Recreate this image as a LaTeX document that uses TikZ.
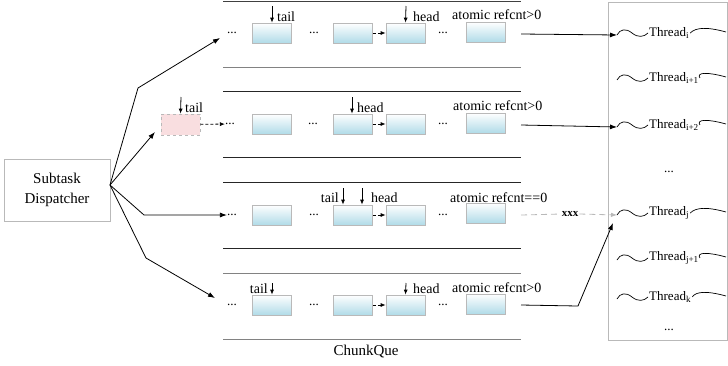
\documentclass[tikz,border=0pt]{standalone}
\usepackage{fontspec}
\setmainfont{Liberation Serif}
\usetikzlibrary{arrows.meta}
\definecolor{qblue}{RGB}{176,219,232}
\definecolor{qpink}{RGB}{249,222,224}
\definecolor{bord}{RGB}{185,185,185}
\definecolor{lgray}{RGB}{130,130,130}
\begin{document}
\begin{tikzpicture}[x=1pt,y=-1pt,
  qbox/.style={rectangle,draw=bord,line width=0.7pt,minimum width=39pt,minimum height=20pt,inner sep=0pt,top color=white,bottom color=qblue},
  pbox/.style={rectangle,draw=bord,dashed,line width=0.7pt,fill=qpink,minimum width=39pt,minimum height=21pt,inner sep=0pt},
  dotsn/.style={font=\fontsize{13}{15}\selectfont,inner sep=0pt},
  lbl/.style={font=\fontsize{14}{16}\selectfont,inner sep=0pt},
  thr/.style={font=\fontsize{13}{15}\selectfont,inner sep=1pt,anchor=west},
  arr/.style={-{Latex[length=7pt,width=5pt]},line width=0.8pt},
  ptr/.style={-{Latex[length=5pt,width=4pt]},line width=0.8pt},
  darr/.style={-{Latex[length=5pt,width=4pt]},line width=0.8pt,dash pattern=on 3pt off 2pt},
  garr/.style={-{Latex[length=6pt,width=4.5pt]},line width=0.8pt,draw=gray!55,dash pattern=on 6pt off 4pt},
  wave/.style={line width=0.7pt},
  rline/.style={line width=1pt}
]
\useasboundingbox (0,0) rectangle (728,365);

% dispatcher
\node[draw=bord,line width=0.7pt,minimum width=106pt,minimum height=62pt,align=center,
      font=\fontsize{15}{20}\selectfont] (disp) at (57,190) {Subtask\\Dispatcher};
\coordinate (fan) at (110,185);

% row separator lines
\draw[rline,black!75] (223,1.5) -- (521,1.5);
\draw[rline,lgray] (223,67) -- (521,67);
\draw[rline,black!85] (223,91) -- (521,91);
\draw[rline,black!85] (223,157) -- (521,157);
\draw[rline,black!85] (223,182) -- (521,182);
\draw[rline,black!85] (223,248) -- (521,248);
\draw[rline,lgray] (223,273) -- (521,273);
\draw[rline,lgray] (223,339) -- (521,339);
\node[font=\fontsize{15}{18}\selectfont,inner sep=0pt] (cq) at (366,352) {ChunkQue};

% ---------- row 1 ----------
\node[dotsn] (e1) at (232,33) {...};
\node[qbox] (a1) at (272,33) {};
\node[dotsn] (f1) at (314,33) {...};
\node[qbox] (b1) at (353,33) {};
\node[qbox] (c1) at (405.5,33) {};
\node[dotsn] (g1) at (443,33) {...};
\node[qbox] (d1) at (485.5,32) {};
\draw[darr] (b1) -- (c1);
\coordinate (t1) at (272,6);
\draw[ptr] (t1) -- (a1.north);
\node[lbl,anchor=base west] (tl1) at (277,21) {tail};
\coordinate (h1) at (406,6);
\draw[ptr] (h1) -- (c1.north);
\node[lbl,anchor=base west] (hl1) at (413,21) {head};
\node[lbl,anchor=base west] (rc1) at (452,19) {atomic refcnt>0};

% ---------- row 2 ----------
\node[pbox] (p2) at (180.5,124.5) {};
\node[dotsn] (e2) at (230,124) {...};
\node[qbox] (a2) at (272,124) {};
\node[dotsn] (f2) at (313,124) {...};
\node[qbox] (b2) at (353,124) {};
\node[qbox] (c2) at (405.5,124) {};
\node[dotsn] (g2) at (443,124) {...};
\node[qbox] (d2) at (485.5,123) {};
\draw[darr] (b2) -- (c2);
\draw[darr] (p2) -- (e2);
\coordinate (t2) at (181,97);
\draw[ptr] (t2) -- (p2.north);
\node[lbl,anchor=base west] (tl2) at (185,112) {tail};
\coordinate (h2) at (352,97);
\draw[ptr] (h2) -- (b2.north -| h2);
\node[lbl,anchor=base west] (hl2) at (357,112) {head};
\node[lbl,anchor=base west] (rc2) at (453,110) {atomic refcnt>0};

% ---------- row 3 ----------
\node[dotsn] (e3) at (232,215) {...};
\node[qbox] (a3) at (272,215) {};
\node[dotsn] (f3) at (314,215) {...};
\node[qbox] (b3) at (353,215) {};
\node[qbox] (c3) at (405.5,215) {};
\node[dotsn] (g3) at (443,215) {...};
\node[qbox] (d3) at (485.5,213) {};
\draw[darr] (b3) -- (c3);
\coordinate (t3) at (343,188);
\draw[ptr] (t3) -- (b3.north -| t3);
\node[lbl,anchor=base east] (tl3) at (339,202) {tail};
\coordinate (h3) at (362,188);
\draw[ptr] (h3) -- (b3.north -| h3);
\node[lbl,anchor=base west] (hl3) at (371,202) {head};
\node[lbl,anchor=base west] (rc3) at (450,202) {atomic refcnt==0};

% ---------- row 4 ----------
\node[dotsn] (e4) at (232,305) {...};
\node[qbox] (a4) at (272,305) {};
\node[dotsn] (f4) at (314,305) {...};
\node[qbox] (b4) at (353,305) {};
\node[qbox] (c4) at (405.5,305) {};
\node[dotsn] (g4) at (443,305) {...};
\node[qbox] (d4) at (485.5,304) {};
\draw[darr] (b4) -- (c4);
\coordinate (t4) at (272,283);
\draw[ptr] (t4) -- (a4.north);
\node[lbl,anchor=base east] (tl4) at (268,293) {tail};
\coordinate (h4) at (406,283);
\draw[ptr] (h4) -- (c4.north);
\node[lbl,anchor=base west] (hl4) at (413,293) {head};
\node[lbl,anchor=base west] (rc4) at (452,292) {atomic refcnt>0};

% ---------- dispatcher connectors ----------
\coordinate (k1) at (138,88);
\coordinate (k3) at (144,215);
\coordinate (k4) at (146,258);
\coordinate (in1) at (220,38);
\coordinate (in2) at (155,132);
\coordinate (in4) at (215,298);
\draw[arr] (fan) -- (k1) -- (in1);
\draw[arr] (fan) -- (in2);
\draw[arr] (fan) -- (k3) -- (e3.west);
\draw[arr] (fan) -- (k4) -- (in4);

% ---------- thread panel ----------
\draw[draw=bord,line width=0.8pt] (608,2) rectangle (727.6,340);
\foreach \yy/\nm/\txt in {33/th1/{Thread\textsubscript{i}},78/th2/{Thread\textsubscript{i+1}},125/th3/{Thread\textsubscript{i+2}},213/th4/{Thread\textsubscript{j}},258/th5/{Thread\textsubscript{j+1}},297/th6/{Thread\textsubscript{k}}}{
  \node[thr] (\nm) at (648,\yy) {\txt};
  \coordinate (\nm l) at (617,\yy+2);
  \coordinate (\nm r) at (726,\yy-1);
  \draw[wave] (\nm l) .. controls (620,\yy-4) and (626,\yy-5) .. (632,\yy) .. controls (638,\yy+5) and (644,\yy+4) .. (\nm.west);
  \draw[wave] (\nm.east) .. controls (696,\yy-6) and (708,\yy-6) .. (\nm r);
}
\node[dotsn] (td1) at (669,172) {...};
\node[dotsn] (td2) at (669,330) {...};

% ---------- queue -> thread connectors ----------
\coordinate (o1) at (521,34);
\coordinate (o2) at (521,125);
\coordinate (o3) at (521,215);
\coordinate (o4) at (521,305);
\coordinate (k5) at (578,306);
\coordinate (i4) at (613,223);
\draw[arr] (o1) -- (th1l);
\draw[arr] (o2) -- (th3l);
\node[font=\bfseries\fontsize{11}{12}\selectfont,inner sep=1pt] (xx) at (570,214) {xxx};
\draw[line width=0.8pt,draw=gray!55,dash pattern=on 6pt off 4pt] (o3) -- (xx.west);
\draw[garr] (xx.east) -- (th4l);
\draw[arr] (o4) -- (k5) -- (i4);
\end{tikzpicture}
\end{document}
